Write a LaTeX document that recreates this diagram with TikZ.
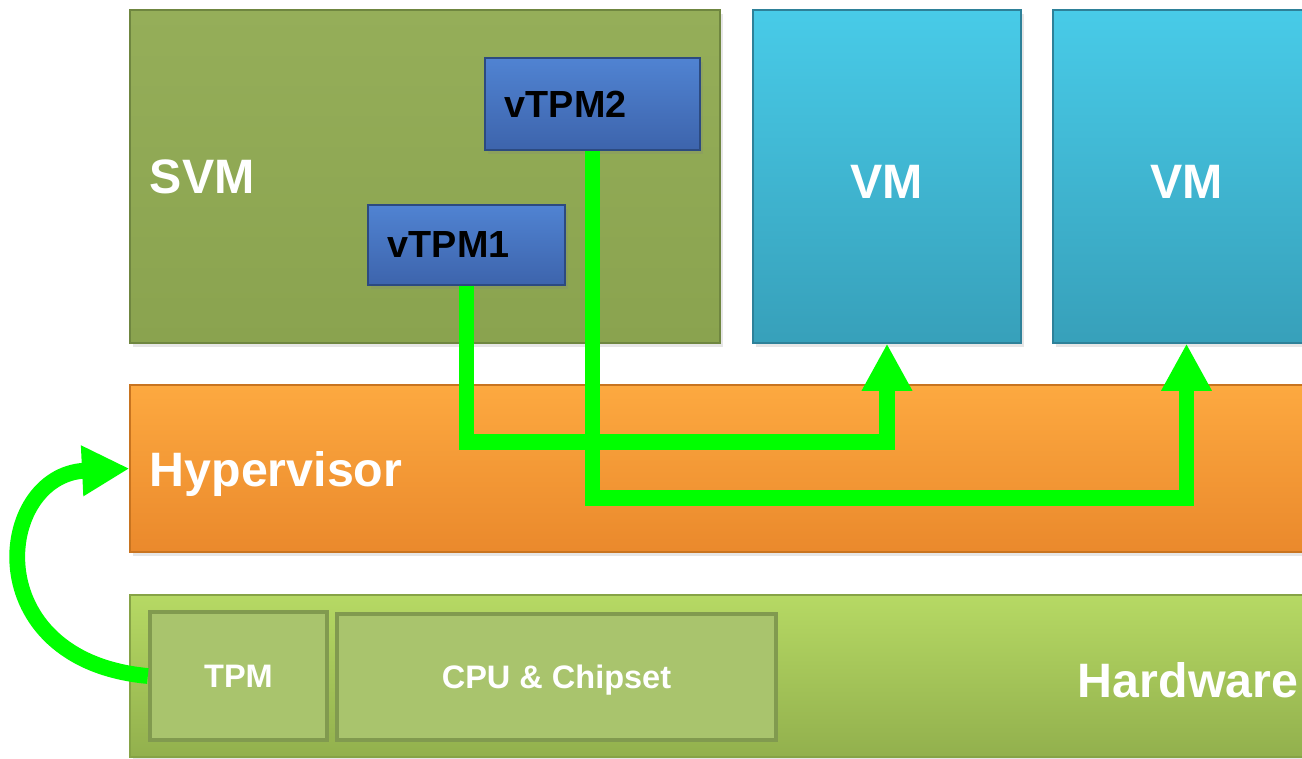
\documentclass[tikz,border=0pt]{standalone}
\usepackage{fontspec}
\setmainfont{Liberation Sans}
\usetikzlibrary{arrows.meta,fit,shadows,positioning}

\definecolor{svmtop}{HTML}{95AE59}
\definecolor{svmbot}{HTML}{8AA34F}
\definecolor{svmedge}{HTML}{6F8640}
\definecolor{vmtop}{HTML}{48CBE8}
\definecolor{vmbot}{HTML}{37A0BA}
\definecolor{vmedge}{HTML}{2E8199}
\definecolor{vtpmtop}{HTML}{5083D2}
\definecolor{vtpmbot}{HTML}{3D64AC}
\definecolor{vtpmedge}{HTML}{2C4A80}
\definecolor{hyptop}{HTML}{FDA940}
\definecolor{hypbot}{HTML}{EA892C}
\definecolor{hypedge}{HTML}{C87420}
\definecolor{hwtop}{HTML}{B6D964}
\definecolor{hwbot}{HTML}{92B04D}
\definecolor{hwedge}{HTML}{86A346}
\definecolor{chipfill}{HTML}{A9C46D}
\definecolor{chipedge}{HTML}{819A4F}
\definecolor{linkgreen}{HTML}{00FF00}

\begin{document}
\begin{tikzpicture}[x=0.02cm, y=-0.02cm,
    layer/.style={draw, line width=0.6pt, inner sep=0pt,
        drop shadow={opacity=0.2, shadow xshift=1.5pt, shadow yshift=-2pt}},
    svmbox/.style={layer, draw=svmedge, top color=svmtop, bottom color=svmbot},
    vmbox/.style={layer, draw=vmedge, top color=vmtop, bottom color=vmbot},
    vtpmbox/.style={layer, draw=vtpmedge, top color=vtpmtop, bottom color=vtpmbot},
    hypbox/.style={layer, draw=hypedge, top color=hyptop, bottom color=hypbot},
    hwbox/.style={layer, draw=hwedge, top color=hwtop, bottom color=hwbot},
    chipbox/.style={draw=chipedge, fill=chipfill, line width=2.5pt, inner sep=0pt},
    biglabel/.style={inner sep=0pt, text depth=0pt, text=white,
        font=\fontsize{27.5pt}{30pt}\selectfont\bfseries},
    chiplabel/.style={inner sep=0pt, text depth=0pt, text=white,
        font=\fontsize{18.5pt}{20pt}\selectfont\bfseries},
    vtpmlabel/.style={inner sep=0pt, text depth=0pt, text=black,
        font=\fontsize{21.5pt}{24pt}\selectfont\bfseries},
    link/.style={draw=linkgreen, line width=9pt, line join=miter,
        -{Triangle[length=27pt,width=27pt]}}
]
\useasboundingbox (0,0) rectangle (1302,758);

% guest layer
\node[svmbox, fit={(130,10) (720,343)}] (svm) {};
\node[biglabel, right=0.4cm of svm.west, anchor=west] (svmlabel) {SVM};
\node[vmbox, fit={(753,10) (1021,343)}] (vm1) {};
\node[biglabel, yshift=-3pt] (vm1label) at (vm1.center) {VM};
\node[vmbox, fit={(1053,10) (1320,343)}] (vm2) {};
\node[biglabel, yshift=-3pt] (vm2label) at (vm2.center) {VM};

\node[vtpmbox, fit={(485,58) (700,150)}] (vtpm2) {};
\node[vtpmlabel, right=0.4cm of vtpm2.west, anchor=west] (vtpm2label) {vTPM2};
\node[vtpmbox, fit={(368,205) (565,285)}] (vtpm1) {};
\node[vtpmlabel, right=0.4cm of vtpm1.west, anchor=west] (vtpm1label) {vTPM1};

% hypervisor and hardware
\node[hypbox, fit={(130,385) (1330,552)}] (hyp) {};
\node[biglabel, right=0.4cm of hyp.west, anchor=west] (hyplabel) {Hypervisor};

\node[hwbox, fit={(130,595) (1330,757)}] (hw) {};
\node[biglabel, left=0.64cm of hw.east, anchor=east, yshift=-2pt] (hwlabel) {Hardware};
\node[chipbox, fit={(150,612) (327,740)}] (tpm) {};
\node[chiplabel] (tpmlabel) at (tpm.center) {TPM};
\node[chipbox, fit={(337,614) (776,740)}] (cpu) {};
\node[chiplabel] (cpulabel) at (cpu.center) {CPU \& Chipset};

% links
\coordinate (lane1) at (0,442);
\coordinate (lane2) at (0,498);
\draw[link] (vtpm1.south) |- (vm1.south |- lane1) -- (vm1.south);
\draw[link] (vtpm2.south) |- (vm2.south |- lane2) -- (vm2.south);
\draw[link] (tpm.west) .. controls (-25,660) and (-5,475) .. (hyp.west);
\end{tikzpicture}
\end{document}
